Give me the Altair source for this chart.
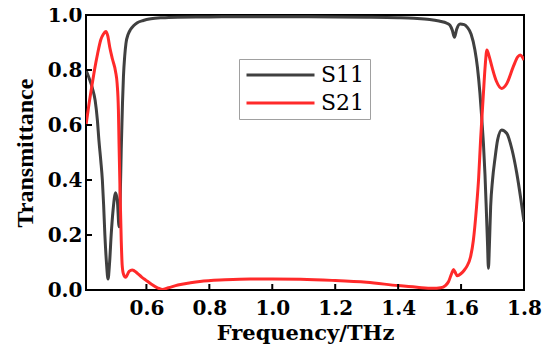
import altair as alt
import pandas as pd

# ---- data ----
s11_freq = [0.408, 0.418, 0.428, 0.437, 0.444, 0.449, 0.455, 0.460, 0.464, 0.468,
            0.473, 0.478, 0.483, 0.488, 0.494, 0.502, 0.508, 0.513, 0.517, 0.520,
            0.524, 0.527, 0.531, 0.535, 0.542, 0.550, 0.560, 0.571, 0.590, 0.614,
            0.650, 0.70, 0.80, 0.90, 1.00, 1.10, 1.20, 1.30, 1.40, 1.45,
            1.50, 1.53, 1.555, 1.565, 1.572, 1.579, 1.586, 1.597, 1.610, 1.620,
            1.632, 1.644, 1.652, 1.660, 1.666, 1.671, 1.676, 1.680, 1.684, 1.687,
            1.690, 1.694, 1.700, 1.708, 1.716, 1.729, 1.745, 1.762, 1.777, 1.790,
            1.800]
s11_val = [0.80, 0.77, 0.735, 0.69, 0.62, 0.545, 0.47, 0.40, 0.31, 0.20,
           0.10, 0.04, 0.10, 0.20, 0.29, 0.354, 0.32, 0.23, 0.35, 0.51,
           0.68, 0.776, 0.85, 0.897, 0.93, 0.948, 0.962, 0.972, 0.98, 0.986,
           0.99, 0.992, 0.993, 0.994, 0.994, 0.994, 0.993, 0.992, 0.99, 0.988,
           0.984, 0.978, 0.97, 0.962, 0.945, 0.919, 0.948, 0.967, 0.965, 0.955,
           0.93, 0.873, 0.81, 0.715, 0.62, 0.534, 0.42, 0.30, 0.17, 0.079,
           0.16, 0.303, 0.40, 0.48, 0.545, 0.582, 0.57, 0.51, 0.425, 0.33,
           0.248]

s21_freq = [0.408, 0.418, 0.427, 0.435, 0.445, 0.455, 0.463, 0.471, 0.477, 0.484,
            0.492, 0.502, 0.507, 0.511, 0.513, 0.516, 0.520, 0.523, 0.527, 0.534,
            0.545, 0.555, 0.570, 0.585, 0.598, 0.615, 0.635, 0.650, 0.670, 0.70,
            0.74, 0.77, 0.85, 0.93, 1.00, 1.09, 1.19, 1.30, 1.40, 1.46,
            1.51, 1.535, 1.550, 1.560, 1.570, 1.576, 1.581, 1.588, 1.600, 1.610,
            1.618, 1.630, 1.639, 1.649, 1.656, 1.662, 1.667, 1.671, 1.677, 1.682,
            1.688, 1.698, 1.712, 1.729, 1.745, 1.766, 1.780, 1.788, 1.795, 1.800]
s21_val = [0.60, 0.68, 0.745, 0.80, 0.86, 0.91, 0.93, 0.94, 0.925, 0.88,
           0.84, 0.794, 0.75, 0.655, 0.53, 0.37, 0.18, 0.09, 0.058, 0.046,
           0.068, 0.073, 0.062, 0.047, 0.036, 0.022, 0.008, 0.002, 0.008, 0.018,
           0.026, 0.031, 0.037, 0.04, 0.04, 0.039, 0.035, 0.028, 0.016, 0.01,
           0.006, 0.008, 0.016, 0.03, 0.06, 0.075, 0.065, 0.052, 0.06, 0.072,
           0.085, 0.12, 0.18, 0.30, 0.41, 0.545, 0.64, 0.715, 0.82, 0.873,
           0.855, 0.812, 0.76, 0.733, 0.75, 0.812, 0.848, 0.855, 0.847, 0.836]

x_tick_values = [0.6, 0.8, 1.0, 1.2, 1.4, 1.6, 1.8]
y_tick_values = [0.0, 0.2, 0.4, 0.6, 0.8, 1.0]
series_names = ["S11", "S21"]
series_colors = ["#404040", "#ff2a2a"]

df = pd.DataFrame({
    "freq": s11_freq + s21_freq,
    "val": s11_val + s21_val,
    "series": ["S11"] * len(s11_freq) + ["S21"] * len(s21_freq),
    "idx": list(range(len(s11_freq))) + list(range(len(s21_freq))),
})
xt = pd.DataFrame({"freq": x_tick_values})
yt = pd.DataFrame({"val": y_tick_values})

W, H = 438, 275
xscale = alt.Scale(domain=[0.408, 1.8], nice=False, zero=False)
yscale = alt.Scale(domain=[0, 1], nice=False, zero=False)

x_axis = alt.Axis(values=x_tick_values, format=".1f", title="Frequency/THz",
                  ticks=False, domain=False, grid=False, labelFlush=False,
                  labelOverlap=False, labelBound=False,
                  labelFont="DejaVu Serif", labelFontWeight="bold",
                  labelFontSize=20, labelColor="black",
                  labelBaseline="alphabetic", labelPadding=24,
                  titleFont="DejaVu Serif", titleFontWeight="bold",
                  titleFontSize=21, titleColor="black",
                  titleBaseline="alphabetic", titleY=49)
y_axis = alt.Axis(values=y_tick_values, format=".1f", title="Transmittance",
                  ticks=False, domain=False, grid=False, labelFlush=False,
                  labelOverlap=False, labelBound=False,
                  labelFont="DejaVu Serif", labelFontWeight="bold",
                  labelFontSize=20, labelColor="black", labelPadding=4,
                  titleFont="Liberation Serif", titleFontWeight="bold",
                  titleFontSize=24, titleColor="black",
                  titleBaseline="alphabetic", titleAlign="center",
                  titleAngle=270, titleX=-54, titleY=H / 2)

lines = alt.Chart(df).mark_line(strokeWidth=3, interpolate="monotone", clip=True).encode(
    x=alt.X("freq:Q", scale=xscale, axis=x_axis),
    y=alt.Y("val:Q", scale=yscale, axis=y_axis),
    color=alt.Color("series:N", scale=alt.Scale(domain=series_names, range=series_colors),
                    legend=alt.Legend(orient="none", legendX=153, legendY=44, title=None,
                                      padding=5, strokeColor="#a0a0a0",
                                      symbolType="M-1,0H7", symbolSize=289,
                                      symbolStrokeWidth=3, labelFont="DejaVu Serif",
                                      labelFontSize=22, labelColor="black",
                                      labelOffset=55, rowPadding=6)),
    order="idx:Q",
)

xticks = alt.Chart(xt).mark_rule(color="black", strokeWidth=2).encode(
    x=alt.X("freq:Q", scale=xscale, axis=x_axis),
    y=alt.value(H), y2=alt.value(H - 6),
)
yticks = alt.Chart(yt).mark_rule(color="black", strokeWidth=2).encode(
    y=alt.Y("val:Q", scale=yscale, axis=y_axis),
    x=alt.value(0), x2=alt.value(6),
)

chart = alt.layer(lines, xticks, yticks).properties(
    width=W, height=H,
    background="white",
    autosize=alt.AutoSizeParams(type="none"),
    padding={"left": 78, "top": 7, "right": 18, "bottom": 54},
).configure_view(stroke="black", strokeWidth=2)

chart.save("out.html", embed_options={"renderer": "svg", "actions": False})
